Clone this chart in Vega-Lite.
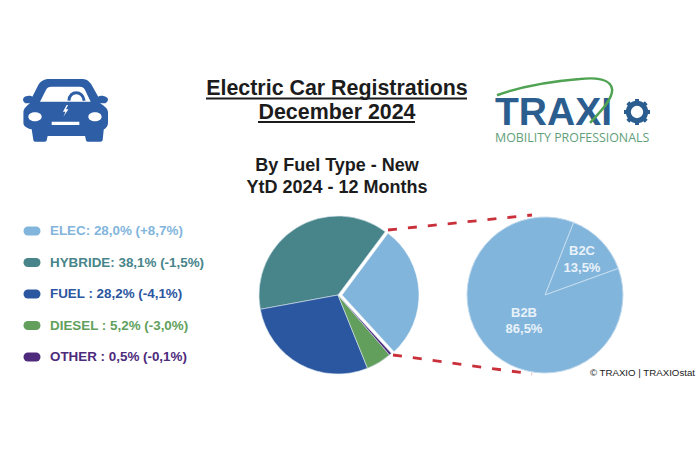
{
"$schema":"https://vega.github.io/schema/vega-lite/v6.json",
"width":700,"height":450,"padding":0,"autosize":{"type":"none"},"background":"white",
"config":{"view":{"stroke":null},"axis":{"disable":true},"legend":{"disable":true},"text":{"font":"Liberation Sans","baseline":"alphabetic"}},
"datasets":{
"fuels":[
{"fuel":"ELEC","rank":1,"share":28.0,"label":"ELEC: 28,0% (+8,7%)"},
{"fuel":"HYBRIDE","rank":2,"share":38.1,"label":"HYBRIDE: 38,1% (-1,5%)"},
{"fuel":"FUEL","rank":3,"share":28.2,"label":"FUEL : 28,2% (-4,1%)"},
{"fuel":"DIESEL","rank":4,"share":5.2,"label":"DIESEL : 5,2% (-3,0%)"},
{"fuel":"OTHER","rank":5,"share":0.5,"label":"OTHER : 0,5% (-0,1%)"}],
"elec":[{"buyer":"B2C","share":13.5},{"buyer":"B2B","share":86.5}],
"one":[{"n":1}]
},
"resolve":{"scale":{"theta":"independent","y":"independent","x":"independent","color":"shared"}},
"layer":[
{"data":{"name":"fuels"},"transform":[{"filter":"datum.fuel==='ELEC'"}],
 "mark":{"type":"arc","outerRadius":77,"stroke":"#ffffff","strokeWidth":0.5},
 "encoding":{"x":{"datum":342,"scale":{"domain":[0,700]}},"y":{"datum":295,"scale":{"domain":[450,0]}},
 "theta":{"field":"share","type":"quantitative","stack":true,"scale":{"domain":[0,100],"range":[0.64,6.923]}},
 "color":{"field":"fuel","type":"nominal","scale":{"domain":["ELEC","HYBRIDE","FUEL","DIESEL","OTHER"],"range":["#82b5dc","#47858a","#2b56a0","#629f5c","#4d2a7c"]}}}},
{"data":{"name":"fuels"},"transform":[{"filter":"datum.fuel!=='ELEC'"}],
 "mark":{"type":"arc","outerRadius":79,"stroke":"#d8e6ee","strokeWidth":0.6},
 "encoding":{"x":{"datum":338,"scale":{"domain":[0,700]}},"y":{"datum":295,"scale":{"domain":[450,0]}},
 "theta":{"field":"share","type":"quantitative","stack":true,"scale":{"domain":[0,100],"range":[2.40,8.683]}},
 "order":{"field":"rank","sort":"descending"},
 "color":{"field":"fuel","type":"nominal"}}},
{"data":{"name":"elec"},
 "mark":{"type":"arc","outerRadius":78,"fill":"#82b5dc","stroke":"#c3dbee","strokeWidth":1},
 "encoding":{"x":{"datum":545,"scale":{"domain":[0,700]}},"y":{"datum":295,"scale":{"domain":[450,0]}},
 "theta":{"field":"share","type":"quantitative","stack":true,"scale":{"domain":[0,100],"range":[0.375,6.658]}},
 "order":{"field":"share"}}},
{"data":{"name":"one"},"mark":{"type":"rule","stroke":"#c9303a","strokeWidth":2.8,"strokeDash":[9,11]},
 "encoding":{"x":{"datum":388,"scale":{"domain":[0,700]}},"y":{"datum":230,"scale":{"domain":[450,0]}},"x2":{"datum":532},"y2":{"datum":215}}},
{"data":{"name":"one"},"mark":{"type":"rule","stroke":"#c9303a","strokeWidth":2.8,"strokeDash":[9,11]},
 "encoding":{"x":{"datum":393,"scale":{"domain":[0,700]}},"y":{"datum":355,"scale":{"domain":[450,0]}},"x2":{"datum":532},"y2":{"datum":374}}},
{"data":{"name":"fuels"},"mark":{"type":"rule","strokeWidth":9,"strokeCap":"round"},
 "encoding":{"x":{"datum":28,"scale":{"domain":[0,700]}},"x2":{"datum":36},
 "y":{"field":"fuel","type":"nominal","sort":{"field":"rank"},"scale":{"type":"point","range":[231,357],"padding":0}},
 "color":{"field":"fuel","type":"nominal"}}},
{"data":{"name":"fuels"},"mark":{"type":"text","align":"left","baseline":"middle","fontWeight":"bold","fontSize":13.4},
 "encoding":{"x":{"datum":50,"scale":{"domain":[0,700]}},
 "y":{"field":"fuel","type":"nominal","sort":{"field":"rank"},"scale":{"type":"point","range":[231,357],"padding":0}},
 "text":{"field":"label"},"color":{"field":"fuel","type":"nominal"}}},
{"data":{"values":[{"t":"Electric Car Registrations"}]},"mark":{"type":"text","fontWeight":"bold","fontSize":21.4,"color":"#1c1c1c"},
 "encoding":{"x":{"datum":337,"scale":{"domain":[0,700]}},"y":{"datum":95,"scale":{"domain":[450,0]}},"text":{"field":"t"}}},
{"data":{"values":[{"t":"December 2024"}]},"mark":{"type":"text","fontWeight":"bold","fontSize":21.4,"color":"#1c1c1c"},
 "encoding":{"x":{"datum":337,"scale":{"domain":[0,700]}},"y":{"datum":119,"scale":{"domain":[450,0]}},"text":{"field":"t"}}},
{"data":{"name":"one"},"mark":{"type":"rule","stroke":"#1c1c1c","strokeWidth":1.8},
 "encoding":{"x":{"datum":206,"scale":{"domain":[0,700]}},"x2":{"datum":467},"y":{"datum":98.5,"scale":{"domain":[450,0]}}}},
{"data":{"name":"one"},"mark":{"type":"rule","stroke":"#1c1c1c","strokeWidth":1.8},
 "encoding":{"x":{"datum":258,"scale":{"domain":[0,700]}},"x2":{"datum":415},"y":{"datum":122,"scale":{"domain":[450,0]}}}},
{"data":{"values":[{"t":"By Fuel Type - New"}]},"mark":{"type":"text","fontWeight":"bold","fontSize":18,"color":"#1c1c1c"},
 "encoding":{"x":{"datum":337,"scale":{"domain":[0,700]}},"y":{"datum":171,"scale":{"domain":[450,0]}},"text":{"field":"t"}}},
{"data":{"values":[{"t":"YtD 2024 - 12 Months"}]},"mark":{"type":"text","fontWeight":"bold","fontSize":18,"color":"#1c1c1c"},
 "encoding":{"x":{"datum":337,"scale":{"domain":[0,700]}},"y":{"datum":193,"scale":{"domain":[450,0]}},"text":{"field":"t"}}},
{"data":{"values":[{"t":"B2C"}]},"mark":{"type":"text","fontWeight":"bold","fontSize":13,"color":"#e9f2f9"},
 "encoding":{"x":{"datum":582,"scale":{"domain":[0,700]}},"y":{"datum":255,"scale":{"domain":[450,0]}},"text":{"field":"t"}}},
{"data":{"values":[{"t":"13,5%"}]},"mark":{"type":"text","fontWeight":"bold","fontSize":13,"color":"#e9f2f9"},
 "encoding":{"x":{"datum":582,"scale":{"domain":[0,700]}},"y":{"datum":272,"scale":{"domain":[450,0]}},"text":{"field":"t"}}},
{"data":{"values":[{"t":"B2B"}]},"mark":{"type":"text","fontWeight":"bold","fontSize":13,"color":"#e9f2f9"},
 "encoding":{"x":{"datum":524,"scale":{"domain":[0,700]}},"y":{"datum":317,"scale":{"domain":[450,0]}},"text":{"field":"t"}}},
{"data":{"values":[{"t":"86,5%"}]},"mark":{"type":"text","fontWeight":"bold","fontSize":13,"color":"#e9f2f9"},
 "encoding":{"x":{"datum":524,"scale":{"domain":[0,700]}},"y":{"datum":333,"scale":{"domain":[450,0]}},"text":{"field":"t"}}},
{"data":{"values":[{"t":"© TRAXIO | TRAXIOstat"}]},"mark":{"type":"text","align":"right","fontSize":9.7,"color":"#222222"},
 "encoding":{"x":{"datum":695,"scale":{"domain":[0,700]}},"y":{"datum":376,"scale":{"domain":[450,0]}},"text":{"field":"t"}}},
{"data":{"values":[{"t":"TRAXI"}]},"mark":{"type":"text","align":"left","fontSize":39,"fontWeight":"bold","color":"#2b5e8f"},
 "encoding":{"x":{"datum":495,"scale":{"domain":[0,700]}},"y":{"datum":125,"scale":{"domain":[450,0]}},"text":{"field":"t"}}},
{"data":{"values":[{"t":"MOBILITY PROFESSIONALS"}]},"mark":{"type":"text","align":"left","fontSize":12.4,"font":"Open Sans","color":"#5fa07a"},
 "encoding":{"x":{"datum":495,"scale":{"domain":[0,700]}},"y":{"datum":142,"scale":{"domain":[450,0]}},"text":{"field":"t"}}},
{"data":{"name":"one"},"mark":{"type":"point","filled":false,"shape":"circle","size":300,"stroke":"#2b5e8f","strokeWidth":5,"opacity":1},
 "encoding":{"x":{"datum":637,"scale":{"domain":[0,700]}},"y":{"datum":112,"scale":{"domain":[450,0]}}}},
{"data":{"name":"one"},"mark":{"type":"point","filled":false,"size":676,"stroke":"#2b5e8f","strokeWidth":4,"opacity":1,
 "shape":"M0.72 0L1 0M0.51 0.51L0.71 0.71M0 0.72L0 1M-0.51 0.51L-0.71 0.71M-0.72 0L-1 0M-0.51 -0.51L-0.71 -0.71M0 -0.72L0 -1M0.51 -0.51L0.71 -0.71"},
 "encoding":{"x":{"datum":637,"scale":{"domain":[0,700]}},"y":{"datum":112,"scale":{"domain":[450,0]}}}},
{"data":{"name":"one"},"mark":{"type":"point","filled":false,"size":14400,"stroke":"#4fa352","strokeWidth":2.5,"opacity":1,
 "shape":"M-1 -.28C-.5 -.46 0 -.52 .38 -.55C.65 -.58 .9 -.55 .92 -.37C.92 -.2 .72 0 .55 .18"},
 "encoding":{"x":{"datum":557,"scale":{"domain":[0,700]}},"y":{"datum":112,"scale":{"domain":[450,0]}}}},
{"data":{"name":"one"},"mark":{"type":"point","filled":true,"size":7225,"color":"#2e5fa6","opacity":1,
 "shape":"M-.365 -.73L.38 -.73C.5 -.73 .56 -.68 .616 -.59L.77 -.31C.8 -.33 .85 -.34 .89 -.33C.95 -.32 1 -.29 1 -.25C1 -.2 .95 -.157 .9 -.157L.81 -.157C.92 -.09 1 -.03 1 .06L1 .31C1 .38 .95 .43 .9 .46L.875 .7C.87 .74 .85 .745 .82 .745L.53 .745C.5 .745 .48 .73 .48 .7L.46 .61L-.42 .61L-.44 .7C-.44 .73 -.46 .745 -.49 .745L-.71 .745C-.74 .745 -.755 .73 -.757 .7L-.796 .455C-.9 .43 -.99 .38 -.99 .31L-.99 .06C-.99 -.03 -.92 -.09 -.835 -.157L-.91 -.157C-.96 -.157 -1 -.2 -1 -.25C-1 -.29 -.95 -.33 -.89 -.33C-.85 -.34 -.8 -.33 -.78 -.31L-.64 -.59C-.58 -.69 -.5 -.73 -.365 -.73Z"},
 "encoding":{"x":{"datum":65.5,"scale":{"domain":[0,700]}},"y":{"datum":110,"scale":{"domain":[450,0]}}}},
{"data":{"name":"one"},"mark":{"type":"point","filled":true,"size":7225,"color":"#ffffff","opacity":1,
 "shape":"M-.6 -.196L.592 -.196L.46 -.47C.43 -.53 .4 -.55 .34 -.55L-.33 -.55C-.4 -.55 -.43 -.53 -.46 -.47ZM-.875 .157C-.875 .09 -.8 .05 -.72 .05C-.63 .05 -.56 .09 -.56 .157C-.56 .22 -.64 .265 -.72 .265C-.8 .265 -.875 .22 -.875 .157ZM.537 .157C.537 .09 .61 .05 .695 .05C.78 .05 .85 .09 .85 .157C.85 .22 .78 .265 .695 .265C.61 .265 .537 .22 .537 .157ZM-.325 .275L.326 .275L.326 .353L-.325 .353ZM.027 -.118L-.06 .04L0 .04L-.05 .16L.07 -.02L.01 -.02L.06 -.118Z"},
 "encoding":{"x":{"datum":65.5,"scale":{"domain":[0,700]}},"y":{"datum":110,"scale":{"domain":[450,0]}}}},
{"data":{"name":"one"},"mark":{"type":"point","filled":false,"size":7225,"stroke":"#2e5fa6","strokeWidth":3,"opacity":1,
 "shape":"M.08 -.22C.1 -.47 .4 -.47 .44 -.22"},
 "encoding":{"x":{"datum":65.5,"scale":{"domain":[0,700]}},"y":{"datum":110,"scale":{"domain":[450,0]}}}}
]
}
